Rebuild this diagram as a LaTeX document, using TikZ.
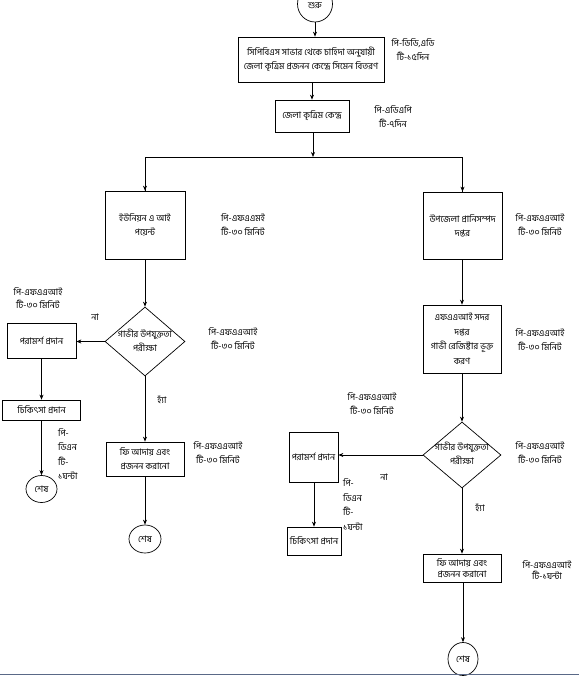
\documentclass[tikz,border=0pt]{standalone}
\usepackage{fontspec}
\newfontfamily\bn[Script=Bengali]{Hind Siliguri}
\usetikzlibrary{arrows.meta,shapes.geometric}
\begin{document}
\begin{tikzpicture}[x=1pt,y=-1pt,
  every node/.style={font=\bn\fontsize{9}{14}\selectfont, inner sep=0pt},
  box/.style={draw, line width=0.7pt, align=center},
  lbl/.style={align=center},
  lbll/.style={align=left, anchor=west},
  term/.style={draw, ellipse, line width=0.7pt},
  dec/.style={draw, diamond, line width=0.7pt},
  arr/.style={line width=0.7pt, -{Stealth[length=5pt,width=4pt]}},
  ln/.style={line width=0.7pt}]
\useasboundingbox (0,0) rectangle (579,676);
\clip (0,0) rectangle (579,676);
% top
\node[term, minimum width=35, minimum height=36] (st) at (315,4) {};
\node (stt) at (315,6) {শুরু};
\node[box, minimum width=146, minimum height=45] (b1) at (311,59.5) {সিপিবিএস সাভার থেকে চাহিদা অনুযায়ী\\জেলা কৃত্রিম প্রজনন কেন্দ্রে সিমেন বিতরণ};
\node[lbl] (l1) at (413,50) {পি-ডিডি,এডি\\টি-১৫দিন};
\node[box, minimum width=74, minimum height=32] (b2) at (312,116) {জেলা কৃত্রিম কেন্দ্র};
\node[lbl] (l2) at (393,117) {পি-এডিএপি\\টি-৭দিন};
\coordinate (j) at (313,157);
\draw[arr] (st.south) -- (b1.north -| st.south);
\draw[arr] (b1.south -| b2.north) -- (b2.north);
\draw[arr] (b2.south -| j) -- (j);
% left branch
\node[box, minimum width=80, minimum height=68] (ub) at (145,225) {ইউনিয়ন এ আই\\পয়েন্ট};
\node[lbl] (lub) at (243,224.5) {পি-এফএএমই\\টি-৩০ মিনিট};
\node[box, minimum width=79, minimum height=67] (up) at (462.5,225.5) {উপজেলা প্রানিসম্পদ\\দপ্তর};
\node[lbl] (lup) at (540,224.5) {পি-এফএএআই\\টি-৩০ মিনিট};
\draw[ln] (j) -| (ub.north);
\draw[ln] (j) -| (up.north);
\draw[arr] (ub.north |- 180,175) -- (ub.north);
\draw[arr] (up.north |- 180,175) -- (up.north);
\node[dec, minimum width=80, minimum height=69] (d1) at (145,341.5) {};
\node[lbl] (d1t) at (145,340) {গাভীর উপযুক্ততা\\পরীক্ষা};
\node[lbl] (ld1) at (233,339) {পি-এফএএআই\\টি-৩০ মিনিট};
\draw[arr] (ub.south) -- (d1.north);
\node[box, minimum width=69, minimum height=35] (p1) at (41.5,340.5) {পরামর্শ প্রদান};
\draw[arr] (d1.west) -- (p1.east |- d1.west);
\node (no1) at (95,317) {না};
\node[lbl, font=\bn\fontsize{9}{12.5}\selectfont] (lp1) at (38,298) {পি-এফএএআই\\টি-৩০ মিনিট};
\node[box, minimum width=78, minimum height=20] (c1) at (41.5,410) {চিকিৎসা প্রদান};
\draw[arr] (p1.south) -- (c1.north);
\node[lbll, font=\bn\fontsize{9}{14.5}\selectfont] (lc1) at (58,454) {পি-\\ডিএন\\টি-\\১ঘন্টা};
\node[term, minimum width=31, minimum height=27] (e1) at (41.5,489) {};
\node (e1t) at (41.5,489) {শেষ};
\draw[arr] (c1.south) -- (e1.north);
\node (yes1) at (162,400) {হ্যাঁ};
\node[box, minimum width=78, minimum height=34] (f1) at (145,459) {ফি আদায় এবং\\প্রজনন করানো};
\node[lbl] (lf1) at (218,453) {পি-এফএএআই\\টি-৩০ মিনিট};
\draw[arr] (d1.south) -- (f1.north);
\node[term, minimum width=32, minimum height=28] (e2) at (145,539) {};
\node (e2t) at (145,539) {শেষ};
\draw[arr] (f1.south) -- (e2.north);
% right branch
\node[box, minimum width=78, minimum height=68, font=\bn\fontsize{9}{14.5}\selectfont] (ug) at (462,339) {এফএএআই সদর\\দপ্তর\\গাভী রেজিষ্টার ভূক্ত\\করণ};
\node[lbl] (lug) at (540,339.5) {পি-এফএএআই\\টি-৩০ মিনিট};
\draw[arr] (up.south -| ug.north) -- (ug.north);
\node[dec, minimum width=78, minimum height=66] (d2) at (462,455) {};
\node[lbl] (d2t) at (462,453) {গাভীর উপযুক্ততা\\পরীক্ষা};
\node[lbl] (ld2) at (540,452.5) {পি-এফএএআই\\টি-৩০ মিনিট};
\draw[arr] (ug.south) -- (d2.north);
\node[box, minimum width=49, minimum height=50] (p2) at (313.5,457) {পরামর্শ প্রদান};
\draw[arr] (d2.west) -- (p2.east |- d2.west);
\node[lbl] (lp2) at (372,403.5) {পি-এফএএআই\\টি-৩০ মিনিট};
\node (no2) at (384,477) {না};
\node[lbll, font=\bn\fontsize{9}{14.5}\selectfont] (lc2) at (343,504.5) {পি-\\ডিএন\\টি-\\১ঘন্টা};
\node[box, minimum width=54, minimum height=28] (c2) at (314,541) {চিকিৎসা প্রদান};
\draw[arr] (p2.south -| c2.north) -- (c2.north);
\node (yes2) at (480,508) {হ্যাঁ};
\node[box, minimum width=78, minimum height=28, font=\bn\fontsize{9}{11.5}\selectfont] (f2) at (462,568) {ফি আদায় এবং\\প্রজনন করানো};
\node[lbl, font=\bn\fontsize{9}{11}\selectfont] (lf2) at (547,570) {পি-এফএএআই\\টি-১ঘন্টা};
\draw[arr] (d2.south) -- (f2.north);
\node[term, minimum width=30, minimum height=33] (e3) at (463,659) {};
\node (e3t) at (463,659) {শেষ};
\draw[arr] (f2.south -| e3.north) -- (e3.north);
% bottom page edge
\draw[line width=1.5pt, color={rgb,255:red,90;green,105;blue,135}] (0,674.5) -- (579,674.5);
\end{tikzpicture}
\end{document}
